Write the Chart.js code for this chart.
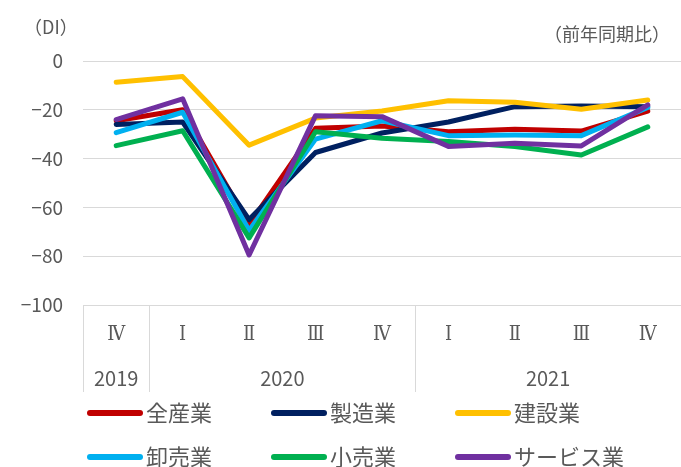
<!DOCTYPE html>
<html>
<head>
<meta charset="utf-8">
<script src="https://cdn.jsdelivr.net/npm/chart.js@4.4.0/dist/chart.umd.min.js"></script>
<style>
  body { margin: 0; background: #fff; }
</style>
</head>
<body>
<canvas id="diChart" width="681" height="467"></canvas>
<script>
const quarters = ['Ⅳ','Ⅰ','Ⅱ','Ⅲ','Ⅳ','Ⅰ','Ⅱ','Ⅲ','Ⅳ'];
const years = ['2019','2020','2021'];
const yearSpans = [1, 4, 4];
const yTicks = [0, -20, -40, -60, -80, -100];

const allIndustries = [-24.5, -20, -67, -27.6, -26.6, -29, -28, -28.7, -20.5];
const manufacturing = [-26, -25, -65, -37.5, -29.5, -25, -18.7, -18.4, -18.7];
const construction = [-8.7, -6.4, -34.5, -23.4, -20.5, -16.3, -16.9, -19.8, -16];
const wholesale = [-29.4, -21, -69.5, -32, -24.5, -30.6, -30.3, -30.6, -19];
const retail = [-34.7, -28.6, -72.5, -29, -31.7, -33, -35, -38.5, -27];
const services = [-24, -15.5, -79.5, -22.4, -22.8, -35, -33.7, -34.8, -18];

const seriesNames = ['全産業','製造業','建設業','卸売業','小売業','サービス業'];
const seriesData = [allIndustries, manufacturing, construction, wholesale, retail, services];
const seriesColors = ['#C00000','#002060','#FFC000','#00B0F0','#00B050','#7030A0'];

const textColor = '#595959';
const fontFamily = '"Noto Sans CJK JP", "Noto Sans", sans-serif';
const romanFont = '"DejaVu Serif Condensed", "DejaVu Serif", "Liberation Serif", serif';

// category box under the plot (quarters + years)
const categoryBox = {
  id: 'categoryBox',
  afterDraw(chart) {
    const ctx = chart.ctx;
    const x = chart.scales.x;
    const area = chart.chartArea;
    const top = area.bottom;
    const bottom = 392;
    const edge = i => i <= 0 ? area.left
      : (i >= quarters.length ? area.right : (x.getPixelForTick(i - 1) + x.getPixelForTick(i)) / 2);

    ctx.save();
    ctx.strokeStyle = '#d9d9d9';
    ctx.lineWidth = 1;
    let idx = 0;
    const bounds = [0];
    yearSpans.forEach(s => { idx += s; bounds.push(idx); });
    bounds.forEach(b => {
      if (b >= quarters.length) return;
      const px = Math.round(edge(b)) + 0.5;
      ctx.beginPath();
      ctx.moveTo(px, top);
      ctx.lineTo(px, bottom);
      ctx.stroke();
    });

    ctx.fillStyle = textColor;
    ctx.textAlign = 'center';
    ctx.textBaseline = 'middle';
    ctx.font = '20px ' + romanFont;
    quarters.forEach((q, i) => ctx.fillText(q, x.getPixelForTick(i), 335));

    ctx.font = '20px ' + fontFamily;
    years.forEach((y, i) => {
      const cx = (edge(bounds[i]) + edge(bounds[i + 1])) / 2;
      ctx.fillText(y, cx, 378);
    });

    // unit labels
    ctx.font = '18px ' + fontFamily;
    ctx.textAlign = 'left';
    ctx.fillText('（DI）', 24, 27);
    ctx.textAlign = 'right';
    ctx.fillText('（前年同期比）', 670, 34);
    ctx.restore();
  }
};

// legend in a 3 x 2 grid
const gridLegend = {
  id: 'gridLegend',
  afterDraw(chart) {
    const ctx = chart.ctx;
    const colX = [87, 271, 455];
    const rowY = [413, 457];
    ctx.save();
    ctx.font = '22px ' + fontFamily;
    ctx.textBaseline = 'middle';
    ctx.textAlign = 'left';
    chart.data.datasets.forEach((ds, i) => {
      const x0 = colX[i % 3];
      const y0 = rowY[Math.floor(i / 3)];
      ctx.strokeStyle = ds.borderColor;
      ctx.lineWidth = 6;
      ctx.lineCap = 'round';
      ctx.beginPath();
      ctx.moveTo(x0 + 3, y0);
      ctx.lineTo(x0 + 53, y0);
      ctx.stroke();
      ctx.fillStyle = textColor;
      ctx.fillText(ds.label, x0 + 59, y0);
    });
    ctx.restore();
  }
};

new Chart(document.getElementById('diChart'), {
  type: 'line',
  data: {
    labels: quarters,
    datasets: seriesNames.map((name, i) => ({
      label: name,
      data: seriesData[i],
      borderColor: seriesColors[i],
      backgroundColor: seriesColors[i],
      borderWidth: 5,
      borderCapStyle: 'round',
      borderJoinStyle: 'round',
      pointRadius: 0,
      tension: 0,
      order: seriesNames.length - i
    }))
  },
  options: {
    responsive: false,
    animation: false,
    layout: { padding: { top: 61, right: 0, bottom: 162, left: 0 } },
    plugins: {
      legend: { display: false },
      tooltip: { enabled: false }
    },
    scales: {
      x: {
        display: false,
        offset: true
      },
      y: {
        min: -100,
        max: 0,
        afterFit(scale) { scale.width = 83; },
        afterBuildTicks(scale) { scale.ticks = yTicks.map(v => ({ value: v })); },
        border: { display: false },
        grid: { color: '#d9d9d9', lineWidth: 1, drawTicks: false },
        ticks: {
          color: textColor,
          padding: 20,
          font: { family: fontFamily, size: 19 },
          callback: v => String(v).replace('-', '−')
        }
      }
    }
  },
  plugins: [categoryBox, gridLegend]
});
</script>
</body>
</html>
